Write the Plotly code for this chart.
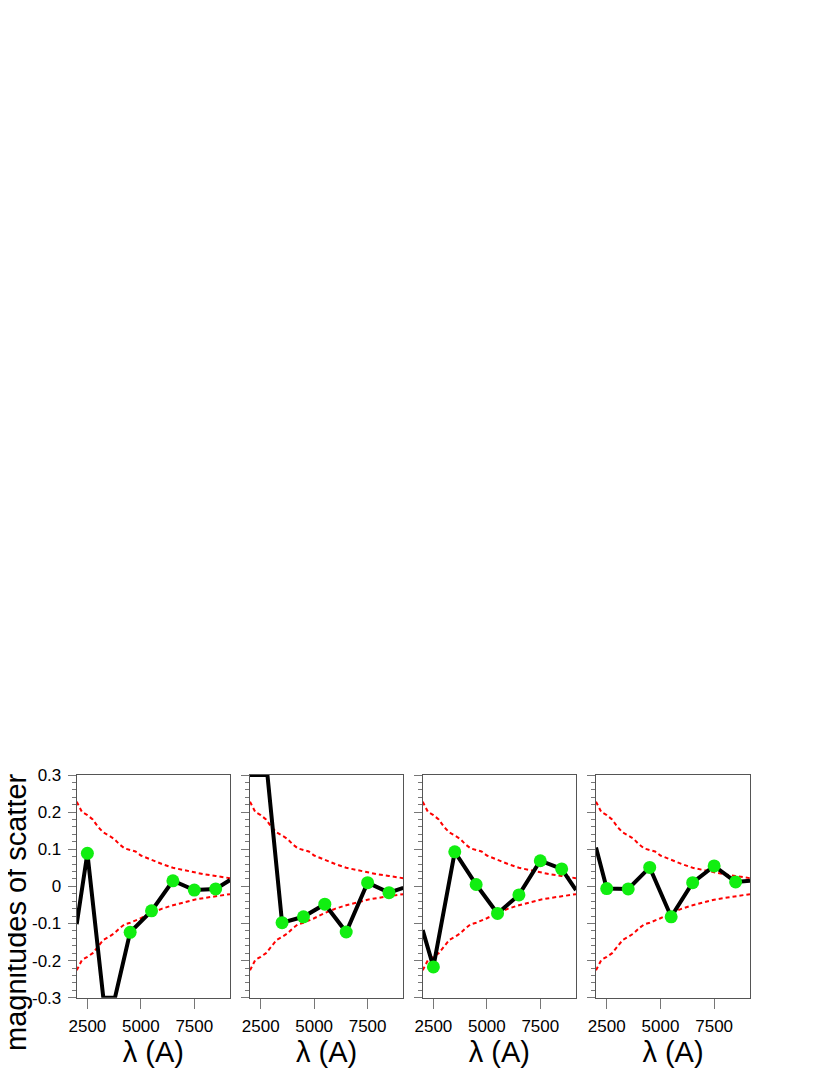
import plotly.graph_objects as go

# ---- data ----
dot_x = [2500, 3500, 4500, 5500, 6500, 7500, 8500]

# panel 1 (value at 3500 is off-scale, below -0.3)
p1_line_x = [2000, 2500, 3245, 3790, 4500, 5500, 6500, 7500, 8500, 9170]
p1_line_y = [-0.102, 0.089, -0.3, -0.3, -0.124, -0.066, 0.015, -0.010, -0.007, 0.017]
p1_dot_x = [2500, 4500, 5500, 6500, 7500, 8500]
p1_dot_y = [0.089, -0.124, -0.066, 0.015, -0.010, -0.007]

# panel 2 (starts off-scale, above 0.3)
p2_line_x = [2000, 2815, 3500, 4500, 5500, 6500, 7500, 8500, 9170]
p2_line_y = [0.3, 0.3, -0.098, -0.082, -0.048, -0.123, 0.010, -0.017, -0.004]
p2_dot_x = [3500, 4500, 5500, 6500, 7500, 8500]
p2_dot_y = [-0.098, -0.082, -0.048, -0.123, 0.010, -0.017]

# panel 3
p3_line_x = [2000, 2500, 3500, 4500, 5500, 6500, 7500, 8500, 9170]
p3_line_y = [-0.118, -0.217, 0.093, 0.005, -0.073, -0.023, 0.069, 0.047, -0.010]
p3_dot_x = dot_x
p3_dot_y = [-0.217, 0.093, 0.005, -0.073, -0.023, 0.069, 0.047]

# panel 4
p4_line_x = [2000, 2500, 3500, 4500, 5500, 6500, 7500, 8500, 9170]
p4_line_y = [0.105, -0.006, -0.007, 0.051, -0.082, 0.010, 0.055, 0.012, 0.015]
p4_dot_x = dot_x
p4_dot_y = [-0.006, -0.007, 0.051, -0.082, 0.010, 0.055, 0.012]

# red dashed envelope (same in every panel)
env_x = [2000, 2250, 2500, 2750, 3000, 3250, 3500, 3750, 4000, 4250, 4500, 4750,
         5000, 5500, 6000, 6500, 7000, 7500, 8000, 8500, 9000, 9170]
env_upper = [0.228, 0.200, 0.192, 0.180, 0.160, 0.145, 0.137, 0.128, 0.113, 0.102,
             0.098, 0.094, 0.083, 0.071, 0.060, 0.050, 0.044, 0.037, 0.032, 0.028,
             0.024, 0.022]
env_lower = [-0.226, -0.198, -0.190, -0.180, -0.162, -0.144, -0.136, -0.127, -0.113,
             -0.102, -0.098, -0.093, -0.086, -0.072, -0.060, -0.051, -0.043, -0.036,
             -0.031, -0.026, -0.023, -0.021]

x_ticks = [2500, 5000, 7500]
x_tick_labels = ["2500", "5000", "7500"]
y_ticks = [-0.3, -0.2, -0.1, 0, 0.1, 0.2, 0.3]
y_tick_labels = ["-0.3", "-0.2", "-0.1", "0", "0.1", "0.2", "0.3"]

panels = [
    (p1_line_x, p1_line_y, p1_dot_x, p1_dot_y),
    (p2_line_x, p2_line_y, p2_dot_x, p2_dot_y),
    (p3_line_x, p3_line_y, p3_dot_x, p3_dot_y),
    (p4_line_x, p4_line_y, p4_dot_x, p4_dot_y),
]

W, H = 830, 1075
OFF = 8  # page body offset
x_domains_px = [(76.7, 230), (250, 403.3), (422.7, 576), (596, 750)]
y_top_px, y_bot_px = 775, 997.7
y_domain = [(H - (y_bot_px - OFF)) / H, (H - (y_top_px - OFF)) / H]

FONT = "Liberation Sans, Arial, Helvetica, sans-serif"
AX_COL = "#555555"

fig = go.Figure()
layout = dict(
    width=W, height=H,
    margin=dict(l=0, r=0, t=0, b=0, autoexpand=False),
    paper_bgcolor="white", plot_bgcolor="white",
    showlegend=False,
    font=dict(family=FONT, color="black"),
)

for i, (lx, ly, dx, dy) in enumerate(panels):
    n = i + 1
    xa = "x" if n == 1 else f"x{n}"
    ya = "y" if n == 1 else f"y{n}"
    for ey in (env_upper, env_lower):
        fig.add_trace(go.Scatter(
            x=env_x, y=ey, mode="lines", xaxis=xa, yaxis=ya,
            line=dict(color="red", width=2, dash="4px,3px"),
            hoverinfo="skip"))
    fig.add_trace(go.Scatter(
        x=lx, y=ly, mode="lines", xaxis=xa, yaxis=ya,
        line=dict(color="black", width=4)))
    fig.add_trace(go.Scatter(
        x=dx, y=dy, mode="markers", xaxis=xa, yaxis=ya,
        marker=dict(color="#11ee11", size=13, line=dict(width=0))))

    x0, x1 = x_domains_px[i]
    xkey = "xaxis" if n == 1 else f"xaxis{n}"
    ykey = "yaxis" if n == 1 else f"yaxis{n}"
    layout[xkey] = dict(
        domain=[(x0 - OFF) / W, (x1 - OFF) / W], anchor=ya, range=[2000, 9170],
        automargin=False, ticklabeloverflow="allow",
        tickmode="array", tickvals=x_ticks, ticktext=x_tick_labels,
        ticks="outside", ticklen=10, tickwidth=1, tickcolor="#777777",
        ticklabelstandoff=3,
        showline=True, linecolor=AX_COL, linewidth=1, mirror=True,
        showgrid=False, zeroline=False,
        tickfont=dict(size=17, family=FONT, color="black"),
        title=dict(text="λ (A)", font=dict(size=29, family=FONT, color="black"),
                   standoff=4),
    )
    layout[ykey] = dict(
        domain=y_domain, anchor=xa, range=[-0.3, 0.3],
        automargin=False, ticklabeloverflow="allow",
        tickmode="array", tickvals=y_ticks, ticktext=y_tick_labels,
        showticklabels=(n == 1),
        ticks="outside", ticklen=8, tickwidth=1, tickcolor="#777777",
        ticklabelstandoff=3,
        minor=dict(dtick=0.02, tick0=-0.3, ticks="outside", ticklen=4,
                   tickwidth=1, tickcolor="#777777", showgrid=False),
        showline=True, linecolor=AX_COL, linewidth=1, mirror=True,
        showgrid=False, zeroline=False,
        tickfont=dict(size=17, family=FONT, color="black"),
    )

layout["annotations"] = [dict(
    text="magnitudes of scatter", textangle=-90,
    x=(16 - OFF) / W, y=(H - (912 - OFF)) / H, xref="paper", yref="paper",
    xanchor="center", yanchor="middle", showarrow=False,
    font=dict(size=29, family=FONT, color="black"))]

fig.update_layout(**layout)
fig.write_html("out.html")
